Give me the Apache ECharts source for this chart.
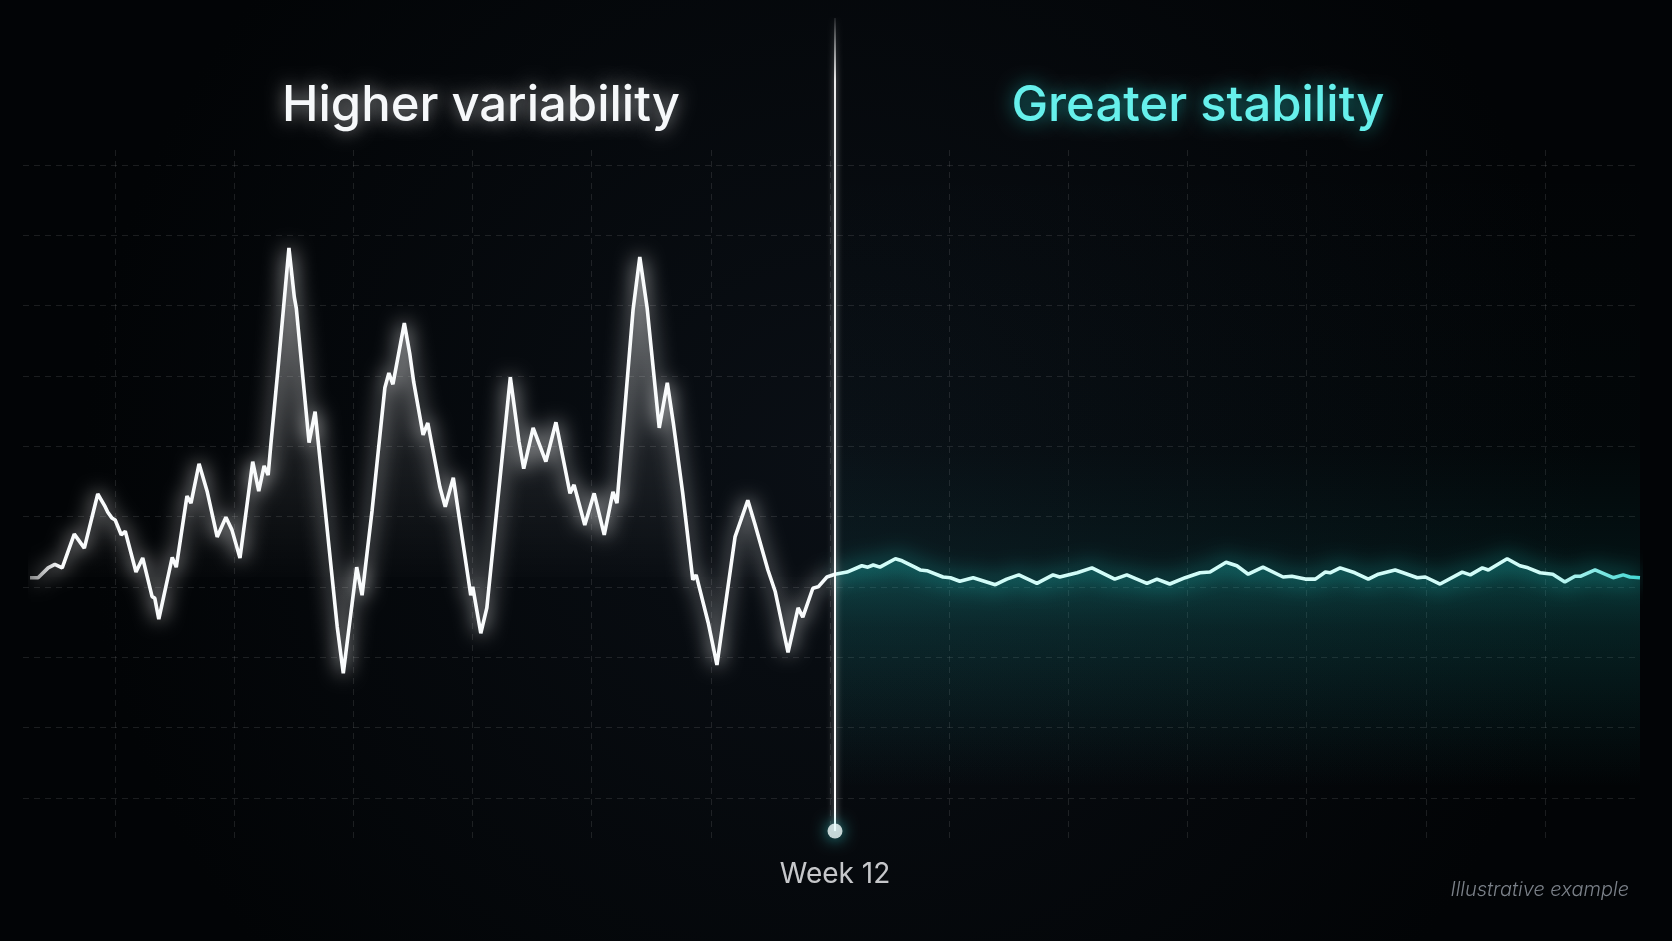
<!DOCTYPE html>
<html>
<head>
<meta charset="utf-8">
<title>Variability vs stability</title>
<script src="https://cdn.jsdelivr.net/npm/echarts@6/dist/echarts.min.js"></script>
<style>
  html, body { margin: 0; padding: 0; background: #05080c; }
  #chart { width: 1672px; height: 941px; }
</style>
</head>
<body>
<div id="chart"></div>
<script>
// weeks 0 - 12: before the change (white trace)
const beforeWeeks = [0, 0.12, 0.27, 0.37, 0.48, 0.66, 0.81, 1.01, 1.12, 1.16, 1.22, 1.27, 1.36, 1.42, 1.58, 1.68, 1.82, 1.86, 1.92, 2.12, 2.18, 2.34, 2.40, 2.52, 2.64, 2.79, 2.92, 3.01, 3.13, 3.32, 3.41, 3.49, 3.55, 3.59, 3.70, 3.86, 3.94, 3.97, 4.16, 4.25, 4.58, 4.67, 4.87, 4.95, 5.10, 5.29, 5.35, 5.41, 5.58, 5.66, 5.72, 5.86, 5.93, 6.11, 6.19, 6.31, 6.57, 6.60, 6.72, 6.81, 7.16, 7.29, 7.36, 7.50, 7.69, 7.84, 8.05, 8.11, 8.27, 8.41, 8.56, 8.69, 8.75, 8.99, 9.09, 9.20, 9.38, 9.50, 9.59, 9.73, 9.88, 9.93, 10.11, 10.24, 10.51, 10.70, 10.81, 11.00, 11.11, 11.30, 11.45, 11.52, 11.67, 11.75, 11.88, 12.00]
const beforeScores = [-0.1, -0.1, 1.3, 1.8, 1.3, 6.1, 4.1, 11.8, 10.0, 9.2, 8.4, 8.1, 6.0, 6.5, 0.7, 2.7, -2.8, -3.0, -6.0, 2.8, 1.4, 11.5, 10.5, 16.1, 12.2, 5.7, 8.5, 6.7, 2.7, 16.4, 12.2, 15.8, 14.5, 18.8, 29.9, 46.8, 39.8, 38.2, 19.1, 23.5, -7.1, -13.7, 1.4, -2.6, 9.5, 26.9, 29.0, 27.4, 36.1, 31.8, 27.7, 20.2, 21.9, 12.8, 10.0, 14.1, -2.6, -1.4, -8.0, -4.4, 28.4, 19.2, 15.4, 21.2, 16.4, 22.0, 11.9, 13.1, 7.4, 11.9, 6.0, 12.1, 10.5, 38.0, 45.5, 38.2, 21.2, 27.6, 21.9, 11.9, -0.4, 0.3, -6.5, -12.5, 5.7, 10.9, 7.4, 1.0, -2.1, -10.7, -4.4, -5.7, -1.6, -1.4, 0, 0.4]

// weeks 12 - 24: after the change (cyan trace)
const afterWeeks = [12.00, 12.18, 12.40, 12.49, 12.57, 12.67, 12.90, 13.00, 13.19, 13.27, 13.37, 13.61, 13.72, 13.86, 14.06, 14.39, 14.56, 14.74, 15.01, 15.25, 15.35, 15.61, 15.83, 16.17, 16.35, 16.65, 16.80, 16.99, 17.22, 17.44, 17.59, 17.83, 17.99, 18.16, 18.38, 18.68, 18.81, 19.01, 19.16, 19.31, 19.38, 19.53, 19.75, 19.95, 20.10, 20.35, 20.47, 20.68, 20.80, 21.02, 21.35, 21.47, 21.65, 21.74, 22.02, 22.21, 22.33, 22.51, 22.70, 22.88, 23.03, 23.11, 23.33, 23.60, 23.75, 23.85, 24.00]
const afterScores = [0.4, 0.7, 1.6, 1.4, 1.7, 1.4, 2.6, 2.3, 1.4, 1.0, 0.9, 0, -0.1, -0.6, -0.1, -1.1, -0.3, 0.3, -0.9, 0.3, 0, 0.6, 1.3, -0.3, 0.3, -0.9, -0.3, -1.0, -0.1, 0.6, 0.7, 2.1, 1.6, 0.4, 1.4, 0, 0.1, -0.3, -0.3, 0.7, 0.6, 1.3, 0.6, -0.3, 0.4, 1.0, 0.6, -0.1, 0, -1.0, 0.7, 0.3, 1.3, 1.0, 2.6, 1.6, 1.3, 0.6, 0.4, -0.7, 0.1, 0.1, 1.0, -0.1, 0.3, 0, -0.1]

const markerWeek = 12
const markerLabel = 'Week 12'
const leftTitle = 'Higher variability'
const rightTitle = 'Greater stability'
const footnote = 'Illustrative example'

const zip = (xs, ys) => xs.map((x, i) => [x, ys[i]])

const FONT = 'Inter, "Noto Sans", sans-serif'
const gridDash = { color: 'rgba(255,255,255,0.1)', width: 1, type: [6, 5] }
const hidden = { show: false }

const option = {
  animation: false,
  backgroundColor: {
    type: 'radial', x: 0.5, y: 0.5, r: 0.8,
    colorStops: [
      { offset: 0, color: '#0a0f15' },
      { offset: 1, color: '#020406' },
    ],
  },
  title: [
    {
      text: leftTitle, left: 481, top: 82, textAlign: 'center', padding: 0,
      textStyle: {
        color: '#f6f8fa', fontSize: 49, fontWeight: 500, fontFamily: FONT,
        textShadowColor: 'rgba(255,255,255,0.6)', textShadowBlur: 18,
      },
    },
    {
      text: rightTitle, left: 1198, top: 82, textAlign: 'center', padding: 0,
      textStyle: {
        color: '#66f0ec', fontSize: 49, fontWeight: 500, fontFamily: FONT,
        textShadowColor: 'rgba(40,230,225,0.6)', textShadowBlur: 18,
      },
    },
    {
      text: footnote, right: 43, top: 880, padding: 0,
      textStyle: {
        color: '#7b8189', fontSize: 20, fontWeight: 300, fontStyle: 'italic', fontFamily: FONT,
      },
    },
  ],
  grid: [
    // vertical guide lines
    { left: 115, right: 127, top: 150, bottom: 99 },
    // horizontal guide lines
    { left: 23, right: 32, top: 165, bottom: 143 },
    // data
    { left: 30, right: 32, top: 155, bottom: 153 },
    // week marker
    { left: 30, right: 32, top: 18, bottom: 110 },
  ],
  xAxis: [
    { gridIndex: 0, type: 'value', min: 1, max: 13, interval: 1, axisLine: hidden, axisTick: hidden, axisLabel: hidden, splitLine: { show: true, lineStyle: gridDash } },
    { gridIndex: 1, type: 'value', min: 0, max: 1, show: false },
    { gridIndex: 2, type: 'value', min: 0, max: 24, show: false },
    { gridIndex: 3, type: 'value', min: 0, max: 24, show: false },
  ],
  yAxis: [
    { gridIndex: 0, type: 'value', min: 0, max: 1, show: false },
    { gridIndex: 1, type: 'value', min: 0, max: 9, interval: 1, axisLine: hidden, axisTick: hidden, axisLabel: hidden, splitLine: { show: true, lineStyle: gridDash } },
    { gridIndex: 2, type: 'value', min: -30, max: 60, show: false },
    { gridIndex: 3, type: 'value', min: 0, max: 1, show: false },
  ],
  series: [
    {
      name: 'Before',
      type: 'line',
      xAxisIndex: 2, yAxisIndex: 2,
      data: zip(beforeWeeks, beforeScores),
      symbol: 'none',
      lineStyle: {
        width: 3.6,
        color: {
          type: 'linear', x: 0, y: 0, x2: 1, y2: 0,
          colorStops: [
            { offset: 0, color: 'rgba(255,255,255,0.45)' },
            { offset: 0.04, color: '#f9fbfc' },
            { offset: 1, color: '#f9fbfc' },
          ],
        },
        shadowColor: '#ffffff',
        shadowBlur: 20,
      },
      areaStyle: {
        color: {
          type: 'linear', x: 0, y: 0, x2: 0, y2: 1,
          colorStops: [
            { offset: 0, color: 'rgba(255,255,255,0.42)' },
            { offset: 0.5, color: 'rgba(255,255,255,0.11)' },
            { offset: 0.77, color: 'rgba(255,255,255,0.01)' },
            { offset: 1, color: 'rgba(255,255,255,0)' },
          ],
        },
      },
      z: 3,
    },
    {
      name: 'After',
      type: 'line',
      xAxisIndex: 2, yAxisIndex: 2,
      data: zip(afterWeeks, afterScores),
      symbol: 'none',
      lineStyle: {
        width: 3.6,
        color: {
          type: 'linear', x: 0, y: 0, x2: 1, y2: 0,
          colorStops: [
            { offset: 0, color: '#d2fcf8' },
            { offset: 0.88, color: '#d2fcf8' },
            { offset: 1, color: '#3fd6d2' },
          ],
        },
        shadowColor: '#22e0da',
        shadowBlur: 22,
      },
      areaStyle: {
        origin: 'start',
        color: {
          type: 'linear', x: 0, y: 0, x2: 0, y2: 1,
          colorStops: [
            { offset: 0, color: 'rgba(30,190,185,0.36)' },
            { offset: 0.3, color: 'rgba(30,175,172,0.16)' },
            { offset: 1, color: 'rgba(30,160,160,0)' },
          ],
        },
      },
      // soft teal haze around the stable trace
      markArea: {
        silent: true,
        itemStyle: {
          color: {
            type: 'linear', x: 0, y: 0, x2: 0, y2: 1,
            colorStops: [
              { offset: 0, color: 'rgba(20,140,140,0)' },
              { offset: 0.45, color: 'rgba(20,140,140,0.02)' },
              { offset: 0.66, color: 'rgba(20,150,150,0.1)' },
              { offset: 1, color: 'rgba(20,140,140,0)' },
            ],
          },
        },
        data: [[{ xAxis: markerWeek }, { xAxis: 24 }]],
      },
      z: 3,
    },
    {
      name: 'Divider',
      type: 'line',
      xAxisIndex: 3, yAxisIndex: 3,
      data: [[markerWeek, 0], [markerWeek, 1]],
      symbol: 'none',
      lineStyle: {
        width: 2,
        color: {
          type: 'linear', x: 0, y: 0, x2: 0, y2: 1,
          colorStops: [
            { offset: 0, color: 'rgba(255,255,255,0.05)' },
            { offset: 0.08, color: 'rgba(255,255,255,0.9)' },
            { offset: 1, color: '#ffffff' },
          ],
        },
        shadowColor: 'rgba(255,255,255,0.7)',
        shadowBlur: 6,
      },
      z: 5,
    },
    {
      name: 'Marker',
      type: 'scatter',
      xAxisIndex: 3, yAxisIndex: 3,
      data: [[markerWeek, 0]],
      symbolSize: 15,
      itemStyle: { color: '#f2fcfc', shadowColor: '#3fe0e0', shadowBlur: 16 },
      label: {
        show: true,
        position: 'bottom',
        distance: 22,
        formatter: markerLabel,
        color: '#f6f8fa',
        fontSize: 28,
        fontFamily: FONT,
      },
      z: 6,
    },
  ],
}

const chart = echarts.init(document.getElementById('chart'))
chart.setOption(option)
</script>
</body>
</html>
